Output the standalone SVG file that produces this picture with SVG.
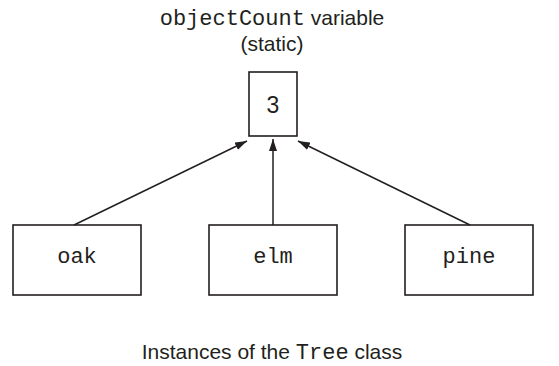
<svg xmlns="http://www.w3.org/2000/svg" width="559" height="366" viewBox="0 0 559 366">
<style>
.box{fill:#fff;stroke:#231f20;stroke-width:1.6}
.mono{font-family:"Liberation Mono","Courier New",monospace;font-size:22px;fill:#231f20}
.sans{font-family:"Liberation Sans",Arial,sans-serif;font-size:21px;fill:#231f20}
.big{font-size:23px}
.edge{stroke:#231f20;stroke-width:1.5;fill:none;marker-end:url(#ah)}
</style>
<defs>
<marker id="ah" viewBox="0 0 12 8" refX="12" refY="4" markerWidth="12" markerHeight="8" markerUnits="userSpaceOnUse" orient="auto">
<path d="M0,0 L12,4 L0,8 z" fill="#231f20"/>
</marker>
</defs>
<g id="title">
<text x="272" y="25" text-anchor="middle"><tspan class="mono">objectCount</tspan><tspan class="sans"> variable</tspan></text>
<text class="sans" x="272" y="51" text-anchor="middle">(static)</text>
</g>
<g id="count">
<rect class="box" x="249" y="72" width="48" height="64"/>
<text class="sans big" x="273" y="113" text-anchor="middle">3</text>
</g>
<g id="oak">
<rect class="box" x="13" y="225" width="128" height="70"/>
<text class="mono" x="77" y="263" text-anchor="middle">oak</text>
</g>
<g id="elm">
<rect class="box" x="209" y="225" width="128" height="70"/>
<text class="mono" x="273" y="263" text-anchor="middle">elm</text>
</g>
<g id="pine">
<rect class="box" x="405" y="225" width="128" height="70"/>
<text class="mono" x="469" y="263" text-anchor="middle">pine</text>
</g>
<g id="connectors">
<line class="edge" x1="74" y1="225" x2="247" y2="141"/>
<line class="edge" x1="273" y1="225" x2="273" y2="139"/>
<line class="edge" x1="470" y1="225" x2="298" y2="141"/>
</g>
<g id="caption">
<text x="272" y="359" text-anchor="middle"><tspan class="sans">Instances of the </tspan><tspan class="mono">Tree</tspan><tspan class="sans"> class</tspan></text>
</g>
</svg>
